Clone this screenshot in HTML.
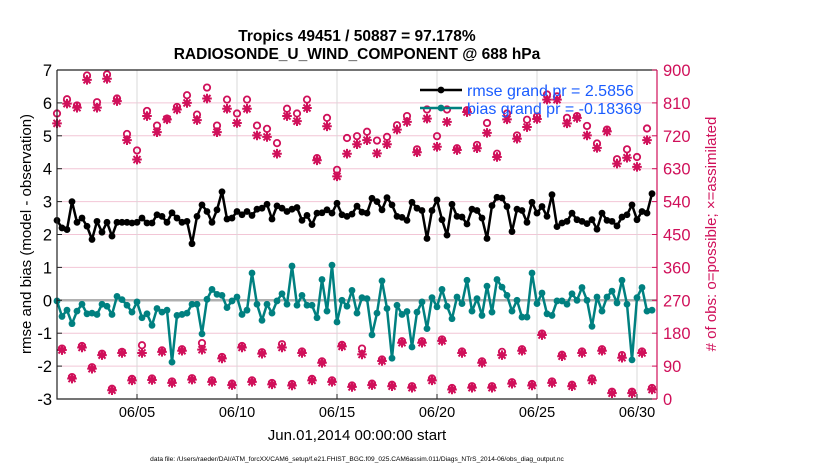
<!DOCTYPE html>
<html><head><meta charset="utf-8">
<style>
html,body{margin:0;padding:0;background:#fff;}
svg{display:block;font-family:"Liberation Sans",Arial,sans-serif;}
</style></head>
<body>
<svg id="chart" width="830" height="470" viewBox="0 0 830 470" xmlns="http://www.w3.org/2000/svg">
<rect width="830" height="470" fill="#fff"/>
<text x="357" y="41" text-anchor="middle" font-size="15.5" font-weight="bold">Tropics 49451 / 50887 = 97.178%</text>
<text x="357" y="59" text-anchor="middle" font-size="15.5" font-weight="bold">RADIOSONDE_U_WIND_COMPONENT @ 688 hPa</text>
<g id="grid"></g>
<g id="marks"></g>
<g id="axes"></g>
<text transform="translate(31,234) rotate(-90)" text-anchor="middle" font-size="15">rmse and bias (model - observation)</text>
<text transform="translate(716,234) rotate(-90)" text-anchor="middle" font-size="15" fill="#d0105a"># of obs: o=possible; ×=assimilated</text>
<text x="357" y="440" text-anchor="middle" font-size="15">Jun.01,2014 00:00:00 start</text>
<text x="357" y="461" text-anchor="middle" font-size="6.6">data file: /Users/raeder/DAI/ATM_forcXX/CAM6_setup/f.e21.FHIST_BGC.f09_025.CAM6assim.011/Diags_NTrS_2014-06/obs_diag_output.nc</text>
<g id="legend"></g>
</svg>
<script>
const rmse=[2.43,2.2,2.15,3.0,2.37,2.5,2.25,1.85,2.4,2.07,2.37,1.95,2.37,2.37,2.37,2.35,2.37,2.5,2.35,2.35,2.6,2.55,2.37,2.66,2.5,2.37,2.4,1.72,2.55,2.9,2.7,
2.37,2.75,3.3,2.47,2.5,2.7,2.6,2.7,2.58,2.77,2.8,2.92,2.47,2.87,2.8,2.7,2.77,2.82,2.43,2.58,2.3,2.65,2.66,2.75,2.65,2.95,2.6,2.55,2.62,
2.86,2.68,2.65,3.1,3.0,2.75,3.12,2.9,2.55,2.52,2.43,2.98,2.8,2.73,1.88,2.73,3.05,2.45,1.98,2.92,2.55,2.53,2.32,2.77,2.73,2.5,1.88,2.88,3.13,
3.11,2.85,2.09,2.77,2.73,2.37,2.98,2.65,2.85,2.55,3.21,2.24,2.35,2.4,2.65,2.45,2.4,2.33,2.45,2.16,2.65,2.43,2.4,2.26,2.53,2.6,2.9,2.45,2.7,2.65,3.24];
const bias=[-0.02,-0.49,-0.3,-0.71,-0.33,-0.12,-0.41,-0.39,-0.43,-0.12,-0.18,-0.43,0.12,0.02,-0.15,-0.36,-0.05,-0.53,-0.41,-0.76,-0.25,-0.36,-0.3,-1.88,-0.46,-0.43,-0.39,-0.12,-0.12,-1.02,0.03,
0.33,0.18,0.15,-0.22,-0.02,0.1,-0.43,-0.3,0.83,-0.12,-0.61,-0.12,-0.39,-0.02,0.2,-0.12,1.04,-0.15,0.15,-0.15,-0.15,-0.53,0.63,-0.33,1.07,-0.66,0,-0.18,0.3,
-0.39,0.08,0.05,-1.05,-0.39,0.59,-0.25,-1.76,-0.15,-0.43,-0.34,-1.42,-0.36,-0.05,-0.86,0.08,-0.2,0.33,-0.18,-0.56,0.1,-0.1,0.61,-0.33,0.05,-0.46,0.43,-0.36,0.63,0.4,
0.15,-0.33,0,-0.51,-0.51,0.83,-0.1,0.22,-0.41,-0.46,-0.02,-0.02,-0.12,0.2,0,0.39,0,-0.79,0.1,-0.33,0.1,0.28,-0.08,0.61,-0.12,-1.81,0.08,0.39,-0.33,-0.3];
const assimilated=[754,134,808,56,797,141,873,83,797,120,876,24,815,126,708,51,655,126,774,52,730,129,765,44,792,132,810,53,763,135,
822,47,730,111,794,38,755,141,794,47,721,124,717,40,671,141,774,37,760,126,796,51,653,99,746,47,609,144,671,33,
697,122,708,38,672,104,697,35,737,154,758,31,675,154,767,51,690,159,758,26,681,126,785,31,686,99,728,31,662,120,
765,42,712,132,744,37,766,175,819,44,819,117,754,35,769,126,721,51,687,132,732,16,644,113,660,16,635,126,708,26];
const possible=[781,138,820,60,803,145,885,87,812,124,888,28,822,129,725,55,680,147,788,56,748,133,767,48,799,136,831,57,778,153,
852,51,748,115,819,42,781,145,819,51,748,128,739,44,700,150,794,41,781,130,819,55,659,103,769,51,627,148,714,37,
719,138,731,42,707,108,717,39,749,158,774,35,683,158,792,56,719,163,792,30,686,130,790,35,695,103,755,35,671,129,
781,46,721,136,764,41,773,179,833,48,828,121,769,39,774,130,747,56,699,136,737,20,656,120,683,20,662,130,740,30];
const leftTicks=[7,6,5,4,3,2,1,0,-1,-2,-3];
const rightTicks=[900,810,720,630,540,450,360,270,180,90,0];
const xTickDays=[4,9,14,19,24,29];
const xTickLabels=["06/05","06/10","06/15","06/20","06/25","06/30"];
const obsPerDay=4;

const NS="http://www.w3.org/2000/svg";
const X0=57,X1=657,Y0=70,Y1=399;
const xs=d=>X0+(d/30)*(X1-X0);
const yL=v=>Y0+(7-v)/10*(Y1-Y0);
const yR=c=>Y0+(900-c)/900*(Y1-Y0);
const tOf=i=>i/obsPerDay;
const PINK="#d0105a",TEAL="#008080";
function mk(tag,attrs,parent){const e=document.createElementNS(NS,tag);for(const k in attrs)e.setAttribute(k,attrs[k]);parent.appendChild(e);return e;}
const grid=document.getElementById('grid'),marks=document.getElementById('marks'),axes=document.getElementById('axes'),legend=document.getElementById('legend');

leftTicks.forEach(v=>{const l=mk('line',{x1:X0,x2:X1,y1:yL(v),y2:yL(v),stroke:'#f2c6d6','stroke-width':1},grid);

});
xTickDays.forEach(d=>{const l=mk('line',{x1:xs(d),x2:xs(d),y1:Y0,y2:Y1,stroke:'#d8d8d8','stroke-width':1},grid);

});
const zl=mk('line',{x1:X0,x2:X1,y1:yL(0),y2:yL(0),stroke:'#b0b0b0','stroke-width':2.5},grid);



function star(cx,cy,g){const r=4.8,q=3.5;let d=`M${cx-r},${cy}H${cx+r}M${cx},${cy-r}V${cy+r}M${cx-q},${cy-q}L${cx+q},${cy+q}M${cx-q},${cy+q}L${cx+q},${cy-q}`;return mk('path',{d:d,stroke:PINK,'stroke-width':2,fill:'none'},g);}
possible.forEach((c,i)=>{const e=mk('circle',{cx:xs(tOf(i)),cy:yR(c),r:3.2,fill:'none',stroke:PINK,'stroke-width':1.8},marks);

});
assimilated.forEach((c,i)=>{const e=star(xs(tOf(i)),yR(c),marks);

});

function series(vals,color,name){
  const pl=mk('polyline',{points:vals.map((v,i)=>xs(tOf(i))+','+yL(v)).join(' '),fill:'none',stroke:color,'stroke-width':2.5,'stroke-linejoin':'round'},marks);
  
  
  vals.forEach((v,i)=>{const c=mk('circle',{cx:xs(tOf(i)),cy:yL(v),r:3.4,fill:color},marks);
  
  });
}
series(bias,TEAL,'bias');
series(rmse,'#000','rmse');

const frame=mk('path',{d:`M${X0},${Y0}H${X1}M${X0},${Y0}V${Y1}H${X1}`,stroke:'#222','stroke-width':1.2,fill:'none'},axes);


const ra=mk('line',{x1:X1,x2:X1,y1:Y0,y2:Y1,stroke:PINK,'stroke-width':1.2},axes);


leftTicks.forEach(v=>{
  const t=mk('text',{x:X0-5,y:yL(v)+6,'text-anchor':'end','font-size':16.5},axes);t.textContent=v;
  
  
  mk('line',{x1:X0,x2:X0+5,y1:yL(v),y2:yL(v),stroke:'#222'},axes);
});
rightTicks.forEach(c=>{
  const t=mk('text',{x:X1+6,y:yR(c)+6,'font-size':16.5,fill:PINK},axes);t.textContent=c;
  
  
  mk('line',{x1:X1-5,x2:X1,y1:yR(c),y2:yR(c),stroke:PINK},axes);
});
xTickDays.forEach((d,k)=>{
  const t=mk('text',{x:xs(d),y:417,'text-anchor':'middle','font-size':14.5},axes);t.textContent=xTickLabels[k];
  
  
  mk('line',{x1:xs(d),x2:xs(d),y1:Y1,y2:Y1-5,stroke:'#222'},axes);
});

[['#000','rmse grand pr = 2.5856',90,'legend-rmse'],[TEAL,'bias grand pr = -0.18369',108,'legend-bias']].forEach(a=>{
  const g=mk('g',{},legend);
  
  
  mk('line',{x1:420,x2:462,y1:a[2],y2:a[2],stroke:a[0],'stroke-width':2.5},g);
  mk('circle',{cx:441,cy:a[2],r:3.4,fill:a[0]},g);
  const t=mk('text',{x:467,y:a[2]+6,'font-size':16,fill:'#1a5cff'},g);t.textContent=a[1];
});
</script>
</body></html>
